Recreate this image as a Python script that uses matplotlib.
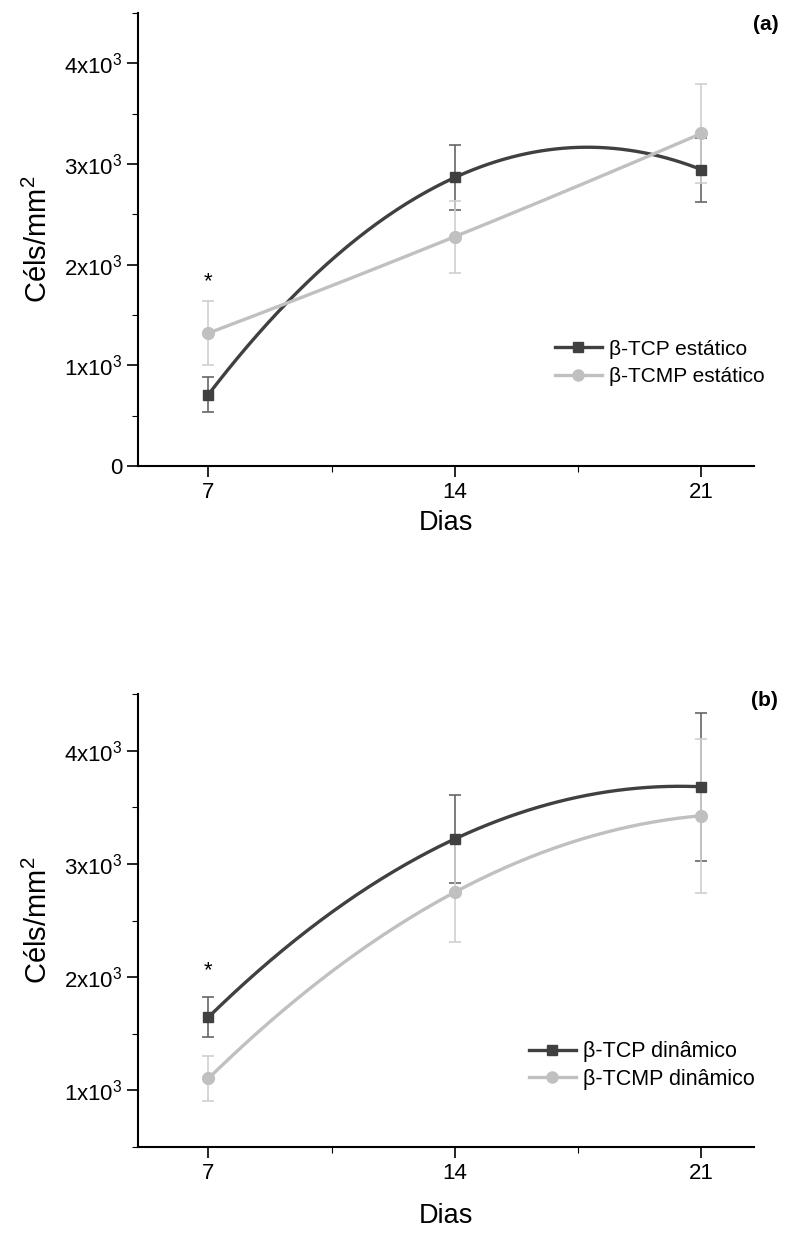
import numpy as np
import matplotlib.pyplot as plt
from matplotlib.ticker import FixedLocator, MultipleLocator

plt.rcParams['font.family'] = ['Liberation Sans', 'DejaVu Sans']
plt.rcParams['mathtext.fontset'] = 'custom'
plt.rcParams['mathtext.rm'] = 'Liberation Sans'
plt.rcParams['mathtext.it'] = 'Liberation Sans:italic'

# days
dias = [7, 14, 21]

# (a) static culture
tcp_est = [710, 2866, 2945]
tcp_est_err = [170, 320, 318]
tcmp_est = [1320, 2278, 3303]
tcmp_est_err = [315, 358, 487]

# (b) dynamic culture
tcp_din = [1646, 3220, 3681]
tcp_din_err = [177, 390, 655]
tcmp_din = [1105, 2750, 3425]
tcmp_din_err = [200, 440, 680]

# asterisk positions (day 7)
star_a = 1830
star_b = 2060

dark = '#404040'
light = '#c0c0c0'

fig = plt.figure(figsize=(7.86, 12.34), dpi=100)
ax1 = fig.add_axes([138/786, 1 - 466/1234, 616/786, 453/1234])
ax2 = fig.add_axes([138/786, 1 - 1147/1234, 616/786, 453/1234])


def smooth(x, y):
    # quadratic curve through the three points
    c = np.polyfit(x, y, 2)
    xs = np.linspace(x[0], x[-1], 200)
    return xs, np.polyval(c, xs)


def draw(ax, y1, e1, y2, e2, lab1, lab2, ylim, ticks):
    ax.errorbar(dias, y1, yerr=e1, fmt='none', ecolor='#666666', elinewidth=1.2,
                capsize=4, capthick=1.2, zorder=2)
    ax.errorbar(dias, y2, yerr=e2, fmt='none', ecolor='#d0d0d0', elinewidth=1.2,
                capsize=4, capthick=1.2, zorder=2)
    xs, ys = smooth(dias, y1)
    ax.plot(xs, ys, color=dark, lw=2.4, zorder=3)
    xs, ys = smooth(dias, y2)
    ax.plot(xs, ys, color=light, lw=2.4, zorder=3)
    ax.plot(dias, y1, 's', color=dark, ms=7.5, zorder=4)
    ax.plot(dias, y2, 'o', color=light, ms=8.5, zorder=4)
    # legend handles
    ax.plot([], [], '-s', color=dark, lw=2.4, ms=7, label=lab1)
    ax.plot([], [], '-o', color=light, lw=2.4, ms=8, label=lab2)

    ax.set_xlim(5, 22.5)
    ax.set_ylim(*ylim)
    ax.set_xticks(dias)
    ax.xaxis.set_minor_locator(FixedLocator([10.5, 17.5]))
    ax.set_yticks(ticks)
    ax.yaxis.set_minor_locator(MultipleLocator(500))
    ax.set_yticklabels(['0' if t == 0 else r'%dx10$^3$' % (t // 1000) for t in ticks])
    for s in ['top', 'right']:
        ax.spines[s].set_visible(False)
    for s in ['left', 'bottom']:
        ax.spines[s].set_linewidth(1.5)
    ax.tick_params(which='major', direction='out', length=8, width=1.2, labelsize=16)
    ax.tick_params(which='minor', direction='out', length=4, width=0.8)
    ax.set_ylabel('Céls/mm$^2$', fontsize=21, labelpad=8)


draw(ax1, tcp_est, tcp_est_err, tcmp_est, tcmp_est_err,
     'β-TCP estático', 'β-TCMP estático', (0, 4500), [0, 1000, 2000, 3000, 4000])
draw(ax2, tcp_din, tcp_din_err, tcmp_din, tcmp_din_err,
     'β-TCP dinâmico', 'β-TCMP dinâmico', (500, 4500), [1000, 2000, 3000, 4000])

ax1.text(7, star_a, '*', ha='center', va='center', fontsize=16)
ax2.text(7, star_b, '*', ha='center', va='center', fontsize=16)

ax1.set_xlabel('Dias', fontsize=19.5, labelpad=5)
ax2.set_xlabel('Dias', fontsize=19.5, labelpad=14)

ax1.legend(loc='center left', bbox_to_anchor=(0.663, 0.228), frameon=False,
           fontsize=15, handlelength=2.26, handletextpad=0.35, labelspacing=0.4,
           borderaxespad=0)
ax2.legend(loc='center left', bbox_to_anchor=(0.62, 0.18), frameon=False,
           fontsize=15.5, handlelength=2.2, handletextpad=0.35, labelspacing=0.3,
           borderaxespad=0)

fig.text(0.99, 1 - 24/1234, '(a)', ha='right', va='center', fontsize=15, fontweight='bold')
fig.text(0.99, 1 - 700/1234, '(b)', ha='right', va='center', fontsize=15, fontweight='bold')

fig.savefig('out.png', dpi=100)
